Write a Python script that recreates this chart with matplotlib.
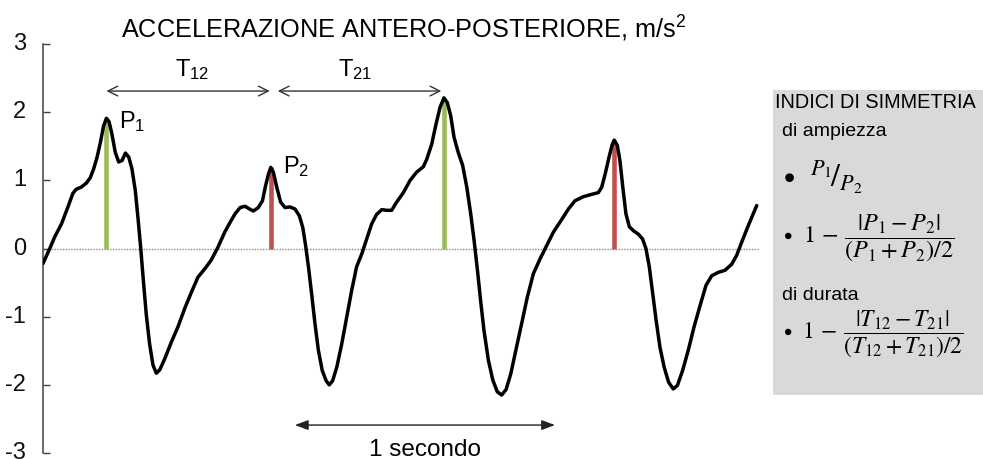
import numpy as np
import matplotlib
matplotlib.use('Agg')
import matplotlib.pyplot as plt
from matplotlib.patches import Rectangle

# antero-posterior acceleration (m/s^2), time in seconds
t = [0.000, 0.026, 0.045, 0.071, 0.096, 0.115, 0.128, 0.147, 0.167, 0.182,
     0.195, 0.208, 0.221, 0.233, 0.244, 0.254, 0.265, 0.278, 0.291, 0.304,
     0.317, 0.330, 0.342, 0.355, 0.365, 0.376, 0.386, 0.397, 0.410, 0.423,
     0.436, 0.449, 0.468, 0.494, 0.519, 0.545, 0.571, 0.596, 0.622, 0.647,
     0.673, 0.699, 0.722, 0.739, 0.758, 0.777, 0.794, 0.809, 0.828, 0.844,
     0.856, 0.867, 0.876, 0.886, 0.899, 0.914, 0.931, 0.950, 0.969, 0.986,
     0.999, 1.009, 1.021, 1.033, 1.046, 1.059, 1.074, 1.089, 1.101, 1.114,
     1.130, 1.149, 1.168, 1.187, 1.206, 1.226, 1.245, 1.264, 1.283, 1.303,
     1.322, 1.341, 1.360, 1.386, 1.412, 1.437, 1.463, 1.476, 1.495, 1.512,
     1.527, 1.542, 1.555, 1.568, 1.581, 1.597, 1.614, 1.630, 1.645, 1.658,
     1.671, 1.683, 1.696, 1.713, 1.730, 1.747, 1.764, 1.781, 1.799, 1.819,
     1.841, 1.863, 1.886, 1.912, 1.937, 1.963, 1.989, 2.021, 2.046, 2.078,
     2.106, 2.136, 2.149, 2.162, 2.177, 2.189, 2.197, 2.209, 2.219, 2.230,
     2.242, 2.255, 2.271, 2.290, 2.306, 2.319, 2.332, 2.345, 2.358, 2.373,
     2.389, 2.406, 2.424, 2.440, 2.460, 2.482, 2.504, 2.527, 2.550, 2.572,
     2.597, 2.623, 2.649, 2.668, 2.687, 2.713, 2.745]
acc = [-0.22, 0.00, 0.17, 0.36, 0.61, 0.81, 0.87, 0.90, 0.96, 1.04,
       1.17, 1.34, 1.56, 1.80, 1.91, 1.86, 1.68, 1.41, 1.27, 1.29,
       1.40, 1.34, 1.17, 0.85, 0.46, 0.00, -0.47, -0.96, -1.40, -1.71,
       -1.83, -1.78, -1.62, -1.37, -1.15, -0.88, -0.64, -0.42, -0.30, -0.17,
       0.02, 0.24, 0.40, 0.51, 0.60, 0.62, 0.58, 0.55, 0.60, 0.70,
       0.92, 1.09, 1.19, 1.12, 0.90, 0.68, 0.60, 0.61, 0.58, 0.48,
       0.31, 0.07, -0.27, -0.66, -1.10, -1.49, -1.79, -1.94, -2.00, -1.94,
       -1.74, -1.40, -1.01, -0.62, -0.27, -0.08, 0.14, 0.36, 0.50, 0.57,
       0.56, 0.56, 0.68, 0.82, 1.00, 1.12, 1.20, 1.31, 1.53, 1.83,
       2.07, 2.21, 2.14, 1.95, 1.63, 1.41, 1.22, 0.90, 0.51, 0.12,
       -0.32, -0.76, -1.20, -1.64, -1.93, -2.10, -2.15, -2.07, -1.84, -1.49,
       -1.10, -0.71, -0.37, -0.15, 0.04, 0.24, 0.39, 0.58, 0.70, 0.76,
       0.79, 0.82, 0.90, 1.09, 1.34, 1.52, 1.59, 1.51, 1.29, 0.90,
       0.51, 0.32, 0.26, 0.21, 0.14, 0.00, -0.27, -0.66, -1.05, -1.45,
       -1.74, -1.96, -2.06, -2.01, -1.79, -1.49, -1.15, -0.84, -0.54, -0.40,
       -0.35, -0.32, -0.23, -0.10, 0.09, 0.34, 0.63]

peak_t = [0.244, 0.876, 1.542, 2.197]
peak_colors = ['#9bbb59', '#c0504d', '#9bbb59', '#c0504d']
yticks = [-3, -2, -1, 0, 1, 2, 3]

plt.rcParams['font.family'] = ['Liberation Sans', 'DejaVu Sans']
plt.rcParams['axes.unicode_minus'] = False
plt.rcParams['mathtext.fontset'] = 'custom'
plt.rcParams['mathtext.rm'] = 'Liberation Sans'
plt.rcParams['mathtext.it'] = 'Liberation Sans:italic'


def main():
    fig = plt.figure(figsize=(9.83, 4.59), dpi=100)
    ax = fig.add_axes([43 / 983, 6 / 459, 717 / 983, 409 / 459])

    ax.set_xlim(0, 717 / 260)
    ax.set_ylim(-3, 3)
    for s in ['top', 'right', 'bottom']:
        ax.spines[s].set_visible(False)
    ax.spines['left'].set_color('#404040')
    ax.spines['left'].set_linewidth(1.1)
    ax.set_xticks([])
    ax.set_yticks(yticks)
    ax.set_yticklabels([str(v) for v in yticks], va='center')
    ax.tick_params(axis='y', direction='in', length=5, width=1, color='#404040',
                   labelsize=17, pad=12, labelcolor='#111111')

    # zero line
    ax.axhline(0, color='#888888', lw=1, ls=(0, (1, 1)), zorder=1)

    # peak bars
    idx = [t.index(p) for p in peak_t]
    peak_v = [acc[i] for i in idx]
    ax.vlines(peak_t, 0, peak_v, colors=peak_colors, lw=3.3, zorder=2)

    # signal
    ax.plot(t, acc, color='black', lw=2.5, solid_joinstyle='round',
            solid_capstyle='round', zorder=3)

    # peak labels
    ax.text(0.292, 1.77, r'P$_1$', fontsize=17, va='baseline')
    ax.text(0.923, 1.11, r'P$_2$', fontsize=17, va='baseline')

    # step intervals
    ya = 2.31
    arr = dict(arrowstyle='<->,head_length=0.7,head_width=0.35', lw=1,
               color='#333333', shrinkA=0, shrinkB=0, mutation_scale=10)
    ax.annotate('', xy=(peak_t[1] - 0.004, ya), xytext=(peak_t[0], ya),
                arrowprops=arr, annotation_clip=False)
    ax.annotate('', xy=(peak_t[2] - 0.01, ya), xytext=(peak_t[1] + 0.027, ya),
                arrowprops=arr, annotation_clip=False)
    ax.text(0.573, 2.53, r'T$_{12}$', fontsize=17, ha='center', va='baseline')
    ax.text(1.200, 2.53, r'T$_{21}$', fontsize=17, ha='center', va='baseline')

    # one second scale
    ys = -2.59
    ax.annotate('', xy=(0.969 + 1.0, ys), xytext=(0.969, ys),
                arrowprops=dict(arrowstyle='<|-|>,head_length=0.8,head_width=0.3',
                                lw=1, color='#222222', shrinkA=0, shrinkB=0,
                                mutation_scale=10),
                annotation_clip=False)
    ax.text(0.969 + 0.5, -3.04, '1 secondo', fontsize=17.5, ha='center',
            va='baseline', clip_on=False)

    # title
    fig.text(404 / 983, 1 - 38 / 459, r'ACCELERAZIONE ANTERO-POSTERIORE, m/s$^2$',
             fontsize=18.2, ha='center', va='baseline')

    # side box
    fig.patches.append(Rectangle((773 / 983, 1 - 395 / 459), 210 / 983, 305 / 459,
                                 transform=fig.transFigure, facecolor='#d9d9d9',
                                 edgecolor='none', zorder=0))
    fy = lambda py: 1 - py / 459
    fx = lambda px: px / 983
    fig.text(fx(775), fy(102), 'INDICI DI SIMMETRIA', fontsize=14.3, va='center')
    fig.text(fx(782), fy(132), 'di ampiezza', fontsize=14, va='center')
    fig.text(fx(782), fy(296), 'di durata', fontsize=14, va='center')
    fig.text(fx(783), fy(177), r'$\bullet\ \ {}^{P_1}\!/_{P_2}$', fontsize=23,
             va='center', math_fontfamily='stix')
    fig.text(fx(783), fy(238), r'$\bullet\ \ 1\,-\,\dfrac{|P_1 - P_2|}{(P_1 + P_2)/2}$',
             fontsize=17.5, va='center', math_fontfamily='stix')
    fig.text(fx(783), fy(334), r'$\bullet\ \ 1\,-\,\dfrac{|T_{12} - T_{21}|}{(T_{12} + T_{21})/2}$',
             fontsize=17, va='center', math_fontfamily='stix')

    fig.savefig('out.png', dpi=100)


if __name__ == "__main__":
    main()
